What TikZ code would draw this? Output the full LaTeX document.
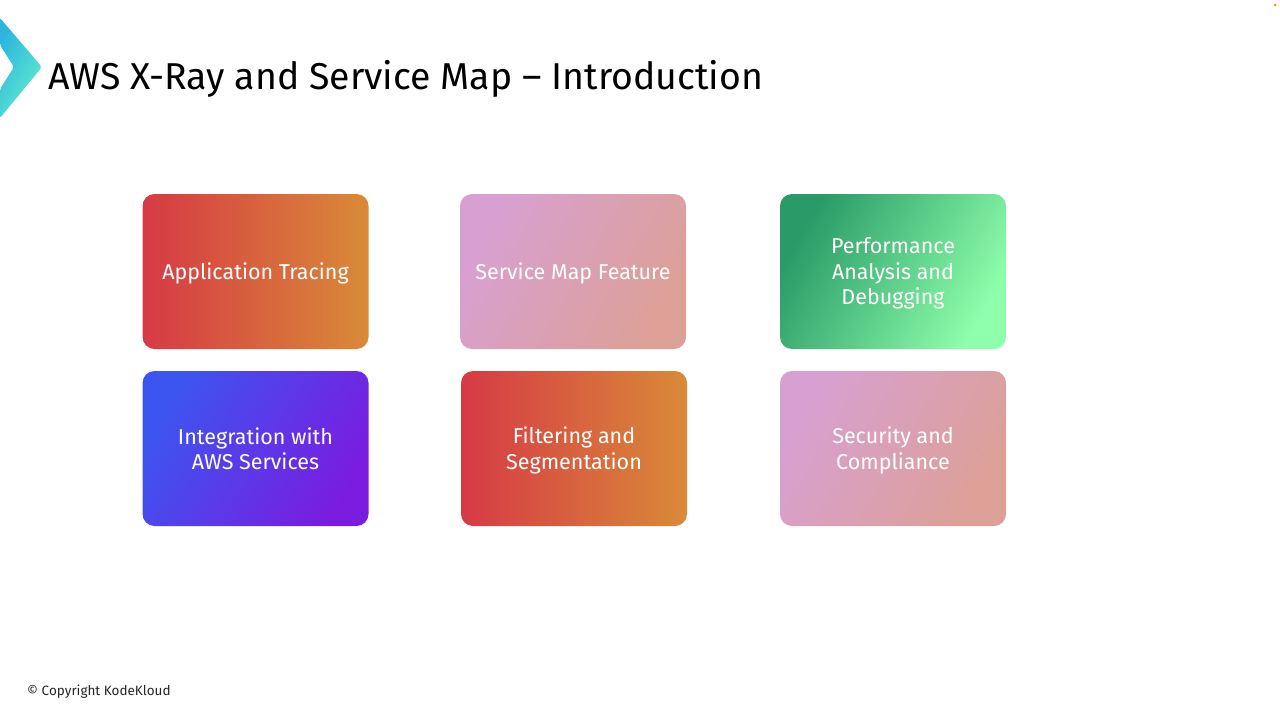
\documentclass[tikz,border=0pt]{standalone}
\usepackage{fontspec}
\setmainfont{Fira Sans}
\usetikzlibrary{positioning}
\tikzset{
    card/.style={rounded corners=12pt, minimum width=226pt, minimum height=155pt, inner sep=0pt},
    cardtext/.style={text=white, align=center, inner sep=0pt, yshift=-2pt, font=\fontsize{21.5}{25.5}\selectfont},
    warmcard/.style={card, left color=warmL, right color=warmR},
    pinkcard/.style={card, left color=pinkL, right color=pinkR, shading angle=60},
    greencard/.style={card, left color=greenL, right color=greenR, shading angle=60},
    bluecard/.style={card, left color=blueL, right color=blueR, shading angle=60},
}
\definecolor{warmL}{HTML}{D63A45}
\definecolor{warmR}{HTML}{D98A38}
\definecolor{pinkL}{HTML}{D8A0D2}
\definecolor{pinkR}{HTML}{DCA096}
\definecolor{greenL}{HTML}{2A9A68}
\definecolor{greenR}{HTML}{8EFFAA}
\definecolor{blueL}{HTML}{3D55F0}
\definecolor{blueR}{HTML}{7A1CE0}
\definecolor{logoL}{HTML}{2CB6DC}
\definecolor{logoR}{HTML}{62ECD0}
\begin{document}
\begin{tikzpicture}[x=1pt, y=-1pt]
    \useasboundingbox (0,0) rectangle (1280,720);
    % logo
    \shade[left color=logoL, right color=logoR, shading angle=60, rounded corners=2pt]
        (0,18) -- (42,67) -- (0,118) -- (0,89) -- (14,67) -- (0,45) -- cycle;
    \node[anchor=west, inner sep=0pt, font=\fontsize{37.4}{40}\selectfont] (title) at (48,79)
        {AWS X-Ray and Service Map -- Introduction};
    % first row
    \node[warmcard, label={[cardtext]center:{Application Tracing}}] (tracing) at (255.5,271.5) {};
    \node[pinkcard, label={[cardtext]center:{Service Map Feature}}] (servicemap) at (573,271.5) {};
    \node[greencard, label={[cardtext]center:{Performance\\Analysis and\\Debugging}}] (performance) at (893,271.5) {};
    % second row
    \node[bluecard, label={[cardtext, yshift=2pt]center:{Integration with\\AWS Services}}] (integration) at (255.5,448.5) {};
    \node[warmcard, label={[cardtext]center:{Filtering and\\Segmentation}}] (filtering) at (574,448.5) {};
    \node[pinkcard, label={[cardtext]center:{Security and\\Compliance}}] (security) at (893,448.5) {};
    \node[anchor=west, inner sep=0pt, text=black!85, font=\fontsize{13.5}{15}\selectfont] (copyright) at (27,692)
        {© Copyright KodeKloud};
    \fill[orange!80!yellow] (1275,5) circle (1.5);
\end{tikzpicture}
\end{document}
